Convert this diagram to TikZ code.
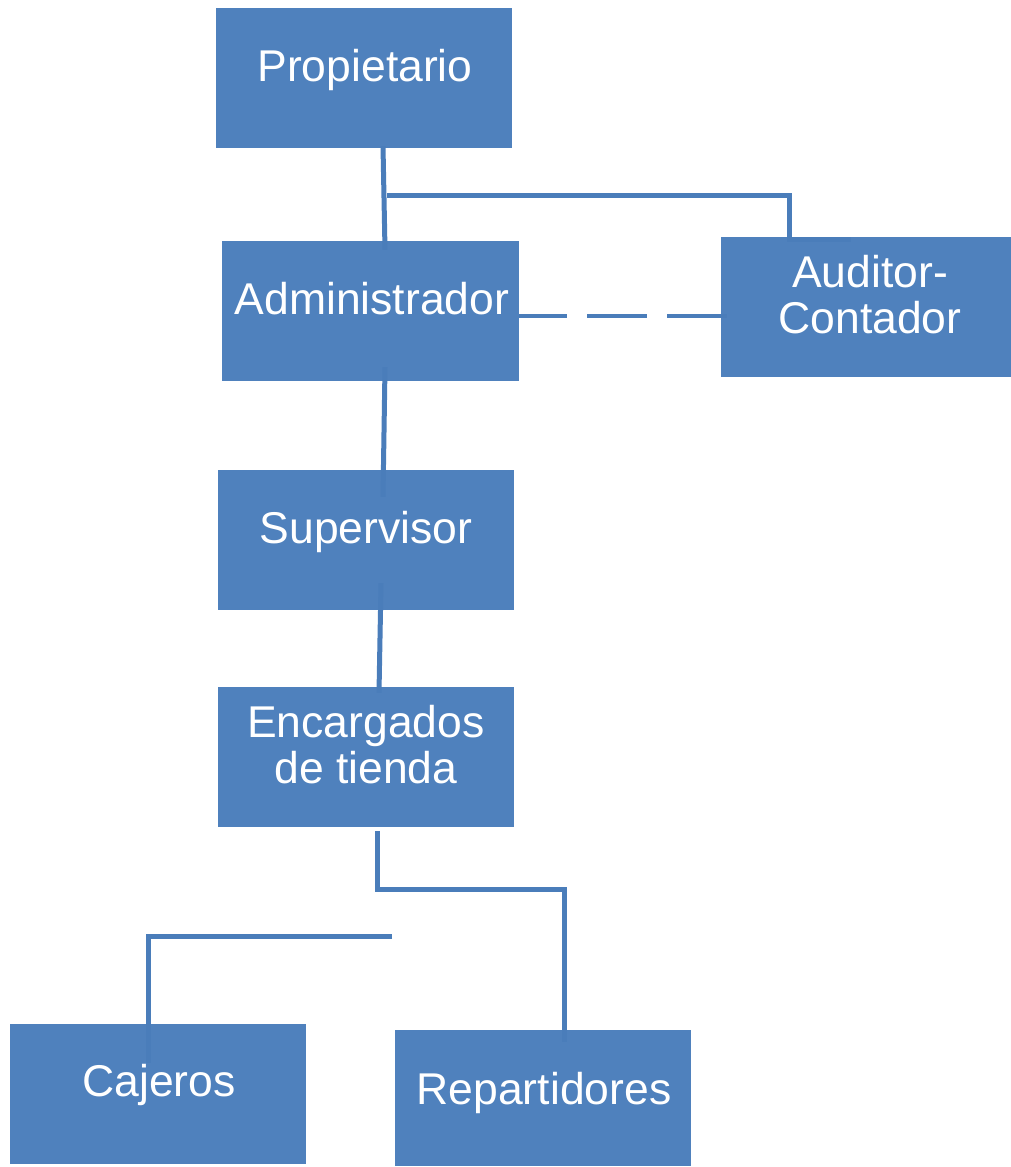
\documentclass[tikz,border=0pt]{standalone}
\usepackage{fontspec}
\setmainfont{Liberation Sans}
\definecolor{boxblue}{HTML}{4F81BD}
\definecolor{lineblue}{HTML}{4A7DBA}
\begin{document}
\begin{tikzpicture}[x=1pt,y=1pt,
  box/.style={fill=boxblue, draw=none, minimum width=296pt, minimum height=140pt, inner sep=0pt},
  lbl/.style={text=white, font=\fontsize{44.5}{46}\selectfont, anchor=base, inner sep=0pt, align=center},
  conn/.style={draw=lineblue, line width=5pt},
  dconn/.style={draw=lineblue, line width=4pt, dash pattern=on 60pt off 20pt, dash phase=12pt}]
\useasboundingbox (0,0) rectangle (1011,1167);
% boxes
\node[box] (prop) at (364,1089) {};
\node[box, minimum width=297pt] (admin) at (370.5,856) {};
\node[box, minimum width=290pt] (aud) at (866,860) {};
\node[box] (sup) at (366,627) {};
\node[box] (enc) at (366,410) {};
\node[box] (caj) at (158,73) {};
\node[box, minimum height=136pt] (rep) at (543,69) {};
% texts
\node[lbl] (propT) at (365,1085) {Propietario};
\node[lbl] (adminT) at (372,852) {Administrador};
\node[lbl] (supT) at (366,623) {Supervisor};
\node[lbl] (encT) at (366,383) {Encargados\\de tienda};
\node[lbl] (audT) at (870,833) {Auditor-\\Contador};
\node[lbl] (cajT) at (159,70) {Cajeros};
\node[lbl] (repT) at (544,62) {Repartidores};
% connectors
\draw[conn] ([xshift=19pt,yshift=2pt]prop.south) -- ([xshift=14.5pt,yshift=-9pt]admin.north);
\draw[conn] ([xshift=23pt,yshift=-47pt]prop.south) -| ([xshift=-77pt,yshift=-3pt]aud.north) -- ++(62,0);
\draw[dconn] ([yshift=-5pt]admin.east) -- ([xshift=9pt,yshift=-9pt]aud.west);
\draw[conn] ([xshift=14.5pt,yshift=14pt]admin.south) -- ([xshift=17pt,yshift=-27pt]sup.north);
\draw[conn] ([xshift=15pt,yshift=27pt]sup.south) -- ([xshift=13pt,yshift=-6pt]enc.north);
\draw[conn] ([xshift=11pt,yshift=-4pt]enc.south) -- ++(0,-58) -| ([xshift=21pt,yshift=-12pt]rep.north);
\coordinate (cajtop) at (392,230);
\draw[conn] (cajtop) -| ([xshift=-10pt,yshift=-39pt]caj.north);
\end{tikzpicture}
\end{document}
